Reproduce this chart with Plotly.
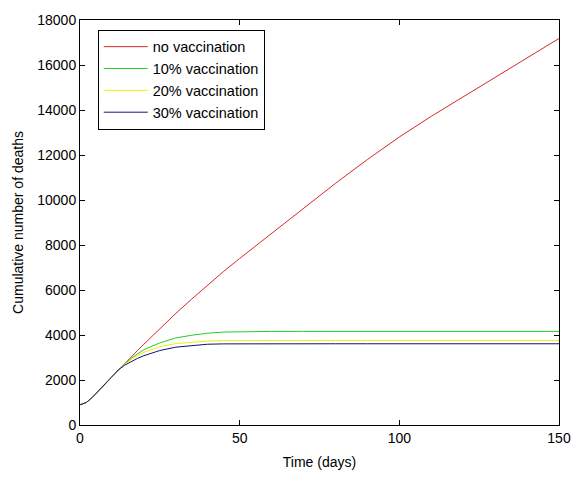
import plotly.graph_objects as go

days = [0, 2, 4, 6, 8, 10, 12, 14, 16, 18, 20, 25, 30, 35, 40, 45, 50,
        60, 70, 80, 90, 100, 110, 120, 130, 140, 150]

no_vacc = [900, 1000, 1250, 1550, 1850, 2150, 2450, 2750, 3030, 3310, 3590,
           4290, 4960, 5600, 6230, 6830, 7400, 8520, 9640, 10740, 11800,
           12800, 13720, 14580, 15450, 16320, 17180]
vacc10 = [900, 1000, 1250, 1550, 1850, 2150, 2450, 2720, 2960, 3170, 3350,
          3650, 3870, 3990, 4080, 4130, 4150, 4160, 4160, 4160, 4160,
          4160, 4160, 4160, 4160, 4160, 4160]
vacc20 = [900, 1000, 1250, 1550, 1850, 2150, 2450, 2700, 2910, 3080, 3230,
          3480, 3620, 3690, 3730, 3750, 3755, 3760, 3760, 3760, 3760,
          3760, 3760, 3760, 3760, 3760, 3760]
vacc30 = [900, 1000, 1250, 1550, 1850, 2150, 2450, 2660, 2820, 2960, 3080,
          3310, 3460, 3540, 3590, 3605, 3610, 3610, 3610, 3610, 3610,
          3610, 3610, 3610, 3610, 3610, 3610]

names = ["no vaccination", "10% vaccination", "20% vaccination", "30% vaccination"]
colors = ["#d82828", "#20d020", "#f0f000", "#101080"]
series = [no_vacc, vacc10, vacc20, vacc30]

x_ticks = [0, 50, 100, 150]
y_ticks = list(range(0, 18001, 2000))

fig = go.Figure()
for name, col, vals in zip(names, colors, series):
    fig.add_trace(go.Scatter(x=days, y=vals, mode="lines", name=name,
                             line=dict(color=col, width=1)))

font = dict(family="Liberation Sans, Arial, sans-serif", size=14, color="black")
lfont = dict(family="Liberation Sans, Arial, sans-serif", size=14.5, color="black")

fig.update_layout(
    width=583, height=480,
    margin=dict(l=80, r=17, t=13, b=52),
    paper_bgcolor="white", plot_bgcolor="white",
    font=font,
    showlegend=True,
    legend=dict(x=0.037, y=0.976, xanchor="left", yanchor="top",
                bordercolor="black", borderwidth=1, bgcolor="white",
                font=lfont, itemwidth=44, tracegroupgap=0),
    xaxis=dict(range=[0, 150], tickvals=x_ticks, ticks="inside", ticklen=5,
               tickcolor="black", showline=True, linecolor="black",
               linewidth=1, mirror="ticks", showgrid=False, zeroline=False,
               tickformat="d",
               title=dict(text="Time (days)", font=font, standoff=12)),
    yaxis=dict(range=[0, 18000], tickvals=y_ticks, ticks="inside", ticklen=5,
               tickcolor="black", showline=True, linecolor="black",
               linewidth=1, mirror="ticks", showgrid=False, zeroline=False,
               tickformat="d",
               title=dict(text="Cumulative number of deaths", font=font, standoff=10)),
)

fig.write_html("out.html")
